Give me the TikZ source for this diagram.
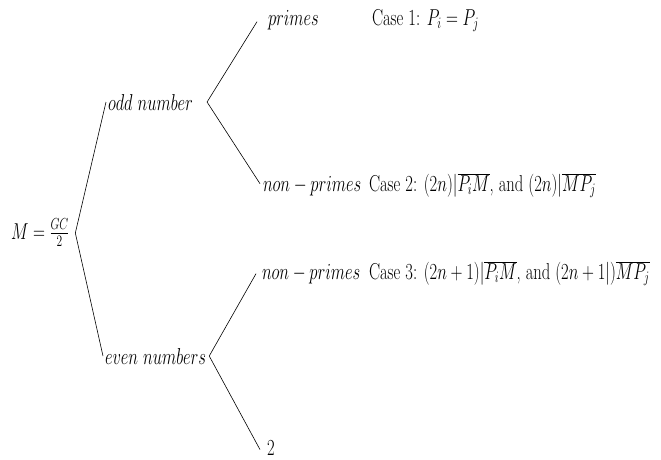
\documentclass[tikz,border=0pt]{standalone}
\usepackage{graphicx}
\newcommand{\narrowtxt}[1]{\scalebox{0.80}[1.109]{#1}}
\begin{document}
\begin{tikzpicture}[x=1pt,y=-1pt,
  lbl/.style={inner sep=1pt,outer sep=0pt,anchor=base west,font=\fontsize{20.74}{25}\selectfont},
  br/.style={line width=0.6pt}]
\useasboundingbox (0,0) rectangle (661,459);
% nodes
\node[lbl,anchor=west] (root) at (10,233) {\narrowtxt{$M=\frac{GC}{2}$}};
\node[lbl] (odd) at (107,110) {\narrowtxt{$odd\ number$}};
\node[lbl] (even) at (104,364) {\narrowtxt{$even\ numbers$}};
\node[lbl] (primes) at (267,25) {\narrowtxt{$primes$}};
\node[lbl] (npa) at (262,191) {\narrowtxt{$non-primes$}};
\node[lbl] (npb) at (261,279) {\narrowtxt{$non-primes$}};
\node[lbl] (two) at (266,455) {\narrowtxt{$2$}};
\node[lbl] (ca) at (371,25) {\narrowtxt{Case 1: $P_i=P_j$}};
\node[lbl] (cb) at (368,191) {\narrowtxt{Case 2: $(2n)|\overline{P_iM}$, and $(2n)|\overline{MP_j}$}};
\node[lbl] (cc) at (368,279) {\narrowtxt{Case 3: $(2n+1)|\overline{P_iM}$, and $(2n+1|)\overline{MP_j}$}};
% bracket vertices
\coordinate (rv) at ([xshift=5pt]root.east);
\coordinate (ov) at ([xshift=13pt]odd.east);
\coordinate (ev) at ([xshift=2pt]even.east);
% connectors
\draw[br] ([xshift=-1pt]odd.west) -- (rv) -- ([xshift=-1pt]even.west);
\draw[br] ([xshift=-10pt,yshift=-2pt]primes.west) -- (ov) -- ([xshift=-2pt,yshift=2pt]npa.west);
\draw[br] ([xshift=-5pt]npb.west) -- (ev) -- ([xshift=-6pt,yshift=-2pt]two.west);
\end{tikzpicture}
\end{document}
